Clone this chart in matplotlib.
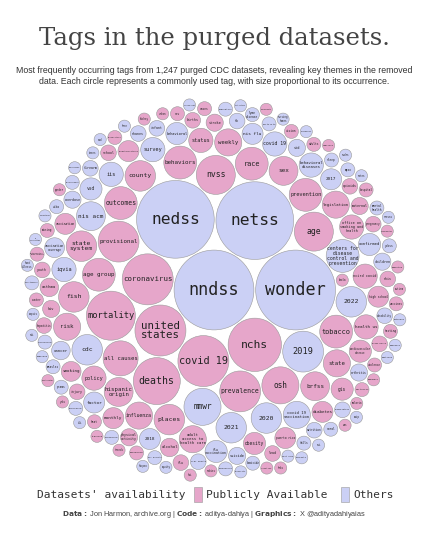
import numpy as np
import matplotlib
matplotlib.use("Agg")
import matplotlib.pyplot as plt
from matplotlib.patches import Circle, Rectangle

# ---------------- data ----------------
tags = ["nndss", "wonder", "netss", "nedss", "nchs", "coronavirus", "united states", "mortality",
        "covid 19", "deaths", "prevalence", "provisional", "2019", "nvss", "age", "osh", "mmwr",
        "all causes", "age group", "outcomes", "tobacco", "behaviors", "race", "prevention",
        "county", "places", "2022", "2020", "2021", "state system", "cdc",
        "centers for disease control and prevention", "fish", "sex", "brfss", "hispanic origin",
        "nis acm", "state", "influenza", "weekly", "legislation", "covid 19 vaccination",
        "adult access to health care", "risk", "policy", "status", "iqvia", "office on smoking and health",
        "ncird covid", "survey", "iis", "health us", "covid 19 ", "behavioral diseases",
        "cardiovascular disease", "obesity", "vsd", "behavioral", "flu vaccination", "confirmed",
        "gis", "nis flu", "2017", "2018", "vaccination", "monthly", "hospitalizations", "diabetes",
        "puerto rico", "factor", "high school", "smoking", "vaccination coverage"]
counts = [130, 130, 123, 123, 58, 53, 53, 49,
          53, 45, 34, 34, 34, 31, 31, 28, 28,
          25, 22, 22, 22, 22, 22, 22,
          19, 19, 19, 19, 19, 19, 19,
          22, 19, 17, 17, 17,
          17, 15, 15, 15, 15, 15,
          15, 15, 12, 12, 12, 12,
          12, 12, 12, 12, 12, 12,
          10, 10, 10, 10, 10, 10,
          10, 9, 9, 9, 9, 9, 9, 9,
          9, 9, 9, 8, 8]
public = [0, 0, 0, 0, 1, 1, 1, 1,
          1, 1, 1, 1, 0, 1, 1, 1, 0,
          1, 1, 1, 1, 1, 1, 1,
          1, 1, 0, 0, 0, 1, 0,
          0, 1, 1, 1, 1,
          0, 1, 1, 1, 1, 0,
          1, 1, 1, 1, 0, 1,
          1, 0, 0, 1, 0, 0,
          1, 1, 0, 0, 0, 0,
          1, 0, 0, 0, 1, 1, 1, 1,
          1, 0, 1, 1, 0]

small_tags = ["alcohol", "cancer", "hiv", "std", "tb", "asthma", "arthritis", "stroke", "injury",
              "suicide", "opioids", "overdose", "births", "fertility", "infant", "maternal",
              "pregnancy", "nutrition", "physical activity", "sleep", "oral health", "vision",
              "disability", "youth", "adults", "children", "school", "workplace", "mining",
              "firearm", "violence", "homicide", "falls", "lead", "air quality", "water", "heat",
              "environment", "zika", "ebola", "measles", "pertussis", "hepatitis", "salmonella",
              "foodborne", "rabies", "lyme disease", "west nile", "malaria", "mpox", "rsv",
              "pneumonia", "sepsis", "antibiotic resistance", "nhanes", "nhis", "yrbss", "prams",
              "surveillance", "laboratory", "testing", "cases", "immunization", "kindergarten",
              "teens", "flu", "pandemic", "emergency", "rural", "urban", "equity", "disparities",
              "ethnicity", "gender", "insurance", "medicaid", "hospital", "nursing homes",
              "dialysis", "hypertension", "cholesterol", "kidney", "dementia", "mental health",
              "depression", "autism", "e cigarettes", "cessation", "quitline", "statistics",
              "trends", "rates", "vaccines", "covid net", "hai", "nhsn", "svi", "tracking",
              "sti", "adolescents", "veterans", "heat illness", "cms", "nvdrs", "yrbs", "asd",
              "ili", "nrevss", "wastewater", "variants", "genomics", "nhbs", "hicpac", "acip"]
small_counts = [7, 7, 6, 6, 5, 7, 6, 6, 5, 6, 5, 6, 5, 4, 5, 6,
                5, 5, 6, 4, 5, 4, 5, 5, 4, 6, 5, 4, 4,
                5, 4, 4, 4, 5, 4, 4, 4,
                4, 4, 3, 4, 4, 5, 4,
                4, 3, 4, 3, 3, 4, 4,
                4, 3, 4, 5, 5, 4, 4,
                5, 4, 4, 4, 5, 3,
                3, 5, 3, 3, 4, 3, 3, 4,
                3, 3, 4, 3, 4, 3,
                3, 4, 3, 3, 3, 4,
                3, 3, 3, 3, 3, 3,
                3, 3, 4, 3, 3, 3, 3, 3,
                3, 3, 3, 3, 3, 3, 3, 3,
                3, 3, 3, 3, 3, 3, 3, 3]
small_public = [1, 0, 1, 0, 0, 1, 0, 1, 1, 0, 1, 0, 1, 0, 0, 1,
                1, 0, 1, 0, 0, 1, 0, 1, 1, 0, 1, 0, 1,
                0, 1, 0, 0, 1, 0, 1, 1,
                0, 0, 1, 0, 1, 1, 0,
                0, 1, 0, 0, 1, 0, 1,
                1, 0, 1, 0, 1, 0, 0,
                1, 0, 1, 1, 0, 1,
                0, 1, 1, 0, 0, 1, 0, 1,
                0, 1, 0, 0, 1, 0,
                1, 0, 0, 1, 1, 0,
                0, 1, 0, 1, 0, 0,
                1, 0, 1, 0, 1, 0, 0, 1,
                0, 1, 0, 0, 1, 0, 1, 0,
                0, 0, 1, 0, 0, 1, 0, 0]

# ---------------- packing ----------------
labels = tags + small_tags
vals = np.array(counts + small_counts, dtype=float)
pub = np.array(public + small_public)
order = np.argsort(-vals, kind="stable")
rad = np.sqrt(vals)
gap = 0.25

X = []; Y = []; R = []
for idx in order:
    r = rad[idx] + gap
    n = len(R)
    if n == 0:
        X.append(0.0); Y.append(0.0); R.append(r); continue
    if n == 1:
        X.append(R[0] + r); Y.append(0.0); R.append(r); continue
    xa = np.array(X); ya = np.array(Y); ra = np.array(R)
    dx = xa[:, None] - xa[None, :]; dy = ya[:, None] - ya[None, :]
    d = np.hypot(dx, dy)
    ii, jj = np.where(np.triu(d < ra[:, None] + ra[None, :] + 2 * r, 1))
    r1 = ra[ii] + r; r2 = ra[jj] + r
    dd = d[ii, jj]
    a = (r1 ** 2 - r2 ** 2 + dd ** 2) / (2 * dd)
    h2 = r1 ** 2 - a ** 2
    ok = h2 > 0
    ii, jj, a, h, dd = ii[ok], jj[ok], a[ok], np.sqrt(h2[ok]), dd[ok]
    ux = (xa[jj] - xa[ii]) / dd; uy = (ya[jj] - ya[ii]) / dd
    px = xa[ii] + a * ux; py = ya[ii] + a * uy
    cx = np.concatenate([px - h * uy, px + h * uy])
    cy = np.concatenate([py + h * ux, py - h * ux])
    dist = np.hypot(cx[:, None] - xa[None, :], cy[:, None] - ya[None, :])
    valid = np.all(dist >= ra[None, :] + r - 1e-6, axis=1)
    cx, cy = cx[valid], cy[valid]
    k = np.argmin(cx ** 2 + cy ** 2)
    X.append(cx[k]); Y.append(cy[k]); R.append(r)

X = np.array(X); Y = np.array(Y); R = np.array(R)
ext = np.max(np.hypot(X, Y) + R)

# ---------------- figure ----------------
W, H = 429, 536
fig = plt.figure(figsize=(W / 100, H / 100), dpi=100)
fig.patch.set_facecolor("white")
cxp, cyp, rp = 214, 290, 198
ax = fig.add_axes([(cxp - rp) / W, (H - cyp - rp) / H, 2 * rp / W, 2 * rp / H])
ax.set_xlim(-ext, ext); ax.set_ylim(-ext, ext)
ax.set_aspect("equal"); ax.axis("off")
scale = rp / ext  # px per data unit

PINK = "#E6A6CA"; BLUE = "#CBD0F5"
mono = ["DejaVu Sans Mono"]
for k, idx in enumerate(order):
    r = R[k] - gap
    ax.add_patch(Circle((X[k], Y[k]), r, facecolor=PINK if pub[idx] else BLUE,
                        edgecolor="#9a9a9a", lw=0.4))
    lab = labels[idx].strip()
    words = lab.split()
    lines = []
    cur = ""
    for w in words:
        if cur and len(cur) + 1 + len(w) > 11:
            lines.append(cur); cur = w
        else:
            cur = (cur + " " + w).strip()
    lines.append(cur)
    rpx = r * scale
    maxlen = max(len(l) for l in lines)
    fs_px = min(rpx * 0.42, 3.2 * rpx / maxlen, 2.2 * rpx / (len(lines) * 1.2))
    ax.text(X[k], Y[k], "\n".join(lines), ha="center", va="center",
            fontsize=fs_px * 0.72, family=mono, color="#222222", linespacing=0.95)

fig.text(0.5, 1 - 38 / H, "Tags in the purged datasets.", ha="center", va="center",
         fontsize=17.5, family=["DejaVu Serif"], color="#444444")
fig.text(0.5, 1 - 76 / H,
         "Most frequently occurring tags from 1,247 purged CDC datasets, revealing key themes in the removed\n"
         "data. Each circle represents a commonly used tag, with size proportional to its occurrence.",
         ha="center", va="center", fontsize=6.3, family=["Liberation Sans", "DejaVu Sans"],
         color="#333333", linespacing=1.3)

ly = 1 - 495 / H
fig.text(37 / W, ly, "Datasets' availability", ha="left", va="center", fontsize=8,
         family=mono, color="#333333")
fig.patches.append(Rectangle((194 / W, ly - 7 / H), 8 / W, 15 / H, transform=fig.transFigure,
                             facecolor=PINK, edgecolor="#999999", lw=0.4))
fig.text(206 / W, ly, "Publicly Available", ha="left", va="center", fontsize=8,
         family=mono, color="#333333")
fig.patches.append(Rectangle((341 / W, ly - 7 / H), 8 / W, 15 / H, transform=fig.transFigure,
                             facecolor=BLUE, edgecolor="#999999", lw=0.4))
fig.text(353 / W, ly, "Others", ha="left", va="center", fontsize=8, family=mono, color="#333333")

fig.text(0.5, 1 - 515 / H,
         r"$\bf{Data:}$ Jon Harmon, archive.org | $\bf{Code:}$ aditya-dahiya | $\bf{Graphics:}$ X @adityadahiyaias",
         ha="center", va="center", fontsize=5.3, family=["Liberation Sans", "DejaVu Sans"],
         color="#444444")

fig.savefig("out.png", dpi=100)
